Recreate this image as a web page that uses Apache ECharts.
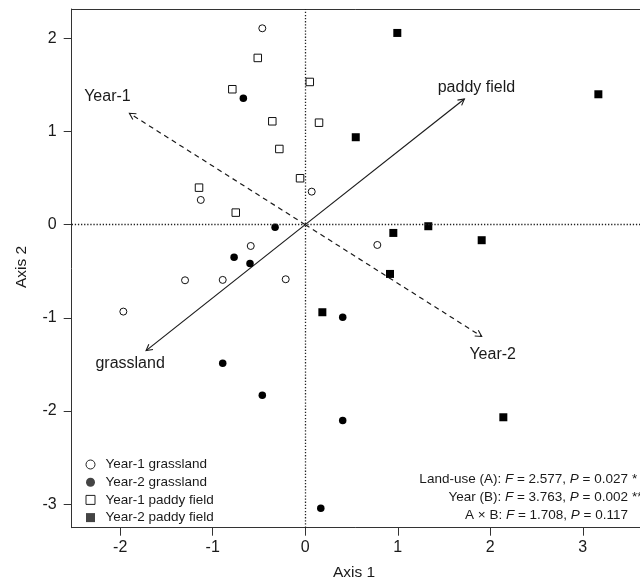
<!DOCTYPE html>
<html>
<head>
<meta charset="utf-8">
<script src="https://cdn.jsdelivr.net/npm/echarts@6/dist/echarts.min.js"></script>
<style>
  html, body { margin: 0; padding: 0; background: #fff; }
  #chart { width: 640px; height: 581px; }
</style>
</head>
<body>
<div id="chart"></div>
<script>
// site scores
const y1GrassX = [-0.464, 0.07, -1.129, -0.589, -1.299, -0.892, -0.211, -1.966, 0.779];
const y1GrassY = [2.107, 0.354, 0.265, -0.229, -0.597, -0.593, -0.586, -0.933, -0.218];
const y2GrassX = [-0.669, -0.326, -0.769, -0.597, -0.892, -0.464, 0.405, 0.405, 0.168];
const y2GrassY = [1.356, -0.028, -0.350, -0.418, -1.487, -1.830, -0.994, -2.103, -3.043];
const y1PaddyX = [-0.513, -0.788, 0.049, -0.356, 0.149, -0.280, -0.056, -1.148, -0.751];
const y1PaddyY = [1.789, 1.453, 1.531, 1.109, 1.094, 0.812, 0.498, 0.397, 0.129];
const y2PaddyX = [0.995, 3.168, 0.546, 1.330, 0.952, 1.907, 0.916, 0.185, 2.141];
const y2PaddyY = [2.057, 1.399, 0.938, -0.017, -0.089, -0.167, -0.529, -0.940, -2.067];

// fitted vectors
const vectorNames = ['paddy field', 'grassland', 'Year-1', 'Year-2'];
const vectorX = [1.72, -1.72, -1.90, 1.907];
const vectorY = [1.349, -1.352, 1.195, -1.20];
const vectorDashed = [false, false, true, true];

const xTicks = [-2, -1, 0, 1, 2, 3];
const yTicks = [-3, -2, -1, 0, 1, 2];

const statLabels = ['Land-use (A)', 'Year (B)', 'A \u00d7 B'];
const statF = ['2.577', '3.763', '1.708'];
const statP = ['0.027', '0.002', '0.117'];
const statStars = ['*', '**', ''];

const FONT = '"Liberation Sans", Arial, sans-serif';
const INK = '#1a1a1a';

function pts(xs, ys) {
    return xs.map((x, i) => [x, ys[i]]);
}

// label offsets (px) from each arrow tip
const labelOffset = [[12, -11], [-16, 13], [-22, -17], [11, 18]];

const chart = echarts.init(document.getElementById('chart'));

const statGraphics = [];
statLabels.forEach((lab, i) => {
    const yy = 479 + i * 18.3;
    statGraphics.push({
        type: 'text', x: 628, y: yy,
        style: {
            text: '{n|' + lab + ': }{i|F}{n| = ' + statF[i] + ', }{i|P}{n| = ' + statP[i] + '}',
            align: 'right', verticalAlign: 'middle',
            rich: {
                n: { fontFamily: FONT, fontSize: 13.5, fill: INK },
                i: { fontFamily: FONT, fontSize: 13.5, fontStyle: 'italic', fill: INK }
            }
        }
    });
    if (statStars[i]) {
        statGraphics.push({
            type: 'text', x: 632, y: yy,
            style: { text: statStars[i], font: '13.5px ' + FONT, fill: INK, align: 'left', verticalAlign: 'middle' }
        });
    }
});

const axisLineStyle = { color: '#333', width: 1 };

const option = {
    animation: false,
    backgroundColor: '#fff',
    grid: { left: 71.7, top: 9, right: 0, bottom: 53.3 },
    xAxis: [
        {
            type: 'value', min: -2.524, max: 3.618,
            axisLine: { onZero: false, lineStyle: axisLineStyle },
            axisTick: { customValues: xTicks, length: 8, lineStyle: { color: '#333' } },
            axisLabel: { customValues: xTicks, margin: 12, fontFamily: FONT, fontSize: 16, color: INK },
            splitLine: { show: false }
        },
        {
            // top frame line only
            type: 'value', position: 'top', min: -2.524, max: 3.618,
            axisLine: { show: true, onZero: false, lineStyle: axisLineStyle },
            axisTick: { show: false }, axisLabel: { show: false }, splitLine: { show: false }
        }
    ],
    yAxis: {
        type: 'value', min: -3.252, max: 2.314,
        axisLine: { show: true, onZero: false, lineStyle: axisLineStyle },
        axisTick: { show: true, customValues: yTicks, length: 8, lineStyle: { color: '#333' } },
        axisLabel: { customValues: yTicks, margin: 15, fontFamily: FONT, fontSize: 16, color: INK },
        splitLine: { show: false }
    },
    legend: {
        orient: 'vertical', left: 85.5, top: 457.5, padding: 0,
        itemWidth: 9, itemHeight: 9, itemGap: 3.7,
        textStyle: { fontFamily: FONT, fontSize: 13.5, color: INK, lineHeight: 14, padding: [0, 0, 0, 5.5] },
        selectedMode: false,
        data: [
            { name: 'Year-1 grassland', itemStyle: { color: '#fff', borderColor: '#222', borderWidth: 1 } },
            { name: 'Year-2 grassland', itemStyle: { color: '#444', borderWidth: 0 } },
            { name: 'Year-1 paddy field', itemStyle: { color: '#fff', borderColor: '#222', borderWidth: 1 } },
            { name: 'Year-2 paddy field', itemStyle: { color: '#444', borderWidth: 0 } }
        ]
    },
    graphic: [
        { type: 'text', x: 354, y: 573, style: { text: 'Axis 1', font: '15.5px ' + FONT, fill: INK, align: 'center', verticalAlign: 'middle' } },
        { type: 'text', x: 21.7, y: 267, rotation: Math.PI / 2, style: { text: 'Axis 2', font: '15.5px ' + FONT, fill: INK, align: 'center', verticalAlign: 'middle' } }
    ].concat(statGraphics),
    series: [
        {
            name: 'Year-1 grassland', type: 'scatter', symbol: 'circle', symbolSize: 7,
            itemStyle: { color: '#fff', borderColor: '#111', borderWidth: 1, opacity: 1 },
            data: pts(y1GrassX, y1GrassY), z: 3,
            markLine: {
                silent: true, symbol: ['none', 'none'], label: { show: false },
                lineStyle: { color: '#222', width: 1.3, type: [1.3, 1.8] },
                data: [{ xAxis: 0 }, { yAxis: 0 }]
            }
        },
        {
            name: 'Year-2 grassland', type: 'scatter', symbol: 'circle', symbolSize: 7.5,
            itemStyle: { color: '#000', opacity: 1 }, data: pts(y2GrassX, y2GrassY), z: 3
        },
        {
            name: 'Year-1 paddy field', type: 'scatter', symbol: 'rect', symbolSize: 7.5,
            itemStyle: { color: '#fff', borderColor: '#111', borderWidth: 1, opacity: 1 },
            data: pts(y1PaddyX, y1PaddyY), z: 3
        },
        {
            name: 'Year-2 paddy field', type: 'scatter', symbol: 'rect', symbolSize: 8,
            itemStyle: { color: '#000', opacity: 1 }, data: pts(y2PaddyX, y2PaddyY), z: 3
        },
        {
            type: 'custom', silent: true, z: 2,
            data: pts(vectorX, vectorY),
            renderItem: function (params, api) {
                const i = params.dataIndex;
                const s = api.coord([0, 0]);
                const e = api.coord([api.value(0), api.value(1)]);
                const ang = Math.atan2(e[1] - s[1], e[0] - s[0]);
                const head = 7, spread = 0.5;
                const p1 = [e[0] - head * Math.cos(ang - spread), e[1] - head * Math.sin(ang - spread)];
                const p2 = [e[0] - head * Math.cos(ang + spread), e[1] - head * Math.sin(ang + spread)];
                const off = labelOffset[i];
                return {
                    type: 'group',
                    children: [
                        {
                            type: 'line',
                            shape: { x1: s[0], y1: s[1], x2: e[0], y2: e[1] },
                            style: { stroke: INK, lineWidth: 1.2, lineDash: vectorDashed[i] ? [5, 4] : null }
                        },
                        {
                            type: 'polyline',
                            shape: { points: [p1, e, p2] },
                            style: { stroke: INK, lineWidth: 1.1, fill: null }
                        },
                        {
                            type: 'text', x: e[0] + off[0], y: e[1] + off[1],
                            style: { text: vectorNames[i], font: '16px ' + FONT, fill: INK, align: 'center', verticalAlign: 'middle' }
                        }
                    ]
                };
            }
        }
    ]
};

chart.setOption(option);
</script>
</body>
</html>
